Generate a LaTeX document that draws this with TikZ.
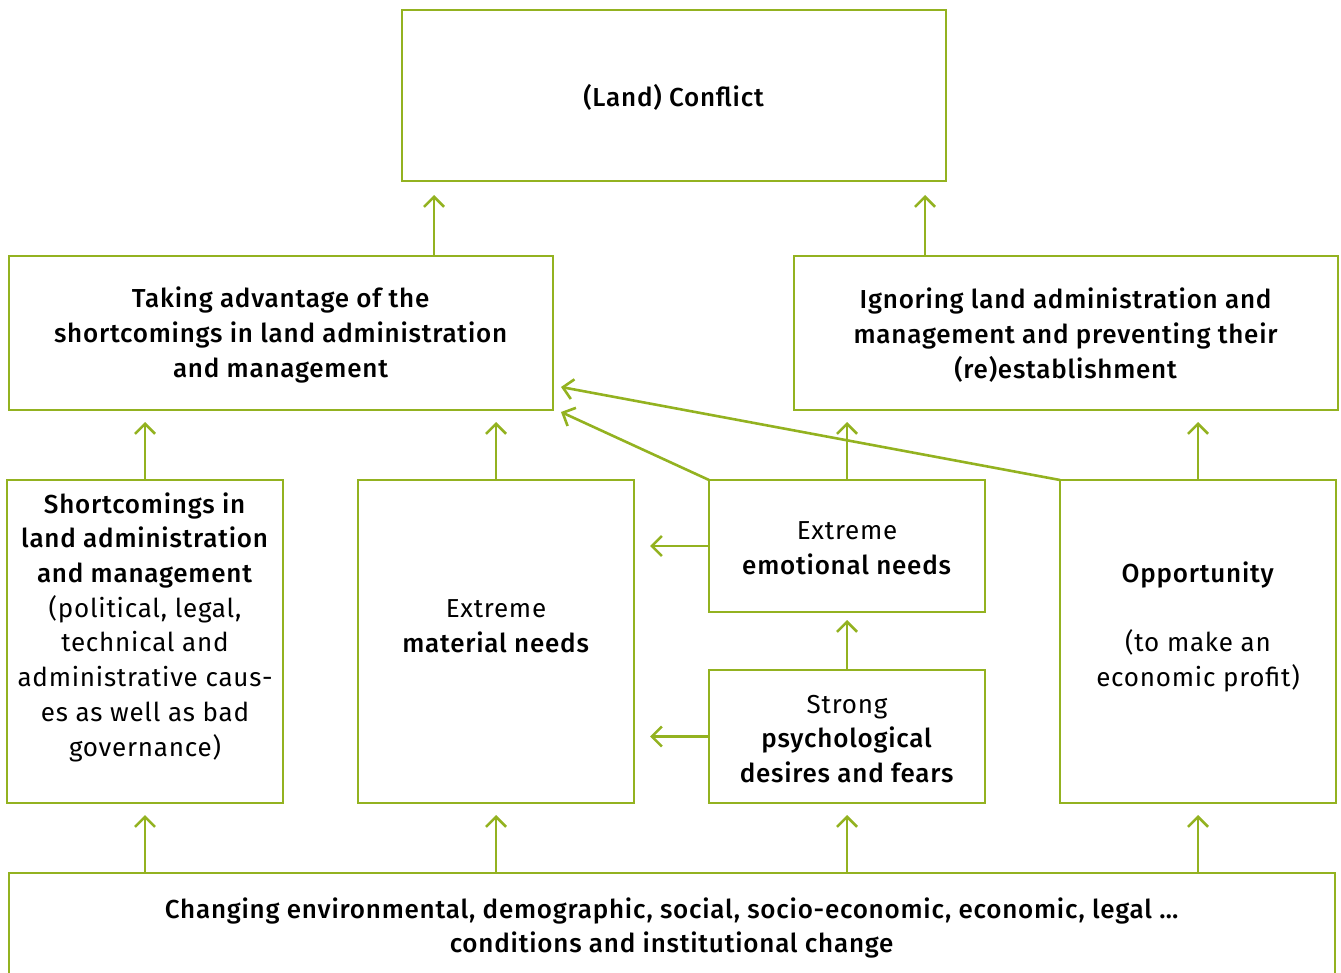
\documentclass[tikz,border=0pt]{standalone}
\usepackage{fontspec}
\setmainfont{Fira Sans}[BoldFont={Fira Sans Medium}, LetterSpace=3]
\usetikzlibrary{arrows.meta}
\definecolor{leaf}{RGB}{147,178,32}
\tikzset{
  box/.style={draw=leaf, line width=2.8pt, rectangle, inner sep=0pt, outer sep=0pt},
  txt/.style={align=center, inner sep=0pt, font=\fontsize{26}{34.7}\selectfont},
  arr/.style={draw=leaf, line width=2.6pt, -{Straight Barb[length=10pt,width=20pt]}},
}
\begin{document}
\begin{tikzpicture}[x=1pt,y=-1pt]
\useasboundingbox (0,0) rectangle (1341,973);

% boxes
\node[box, minimum width=544pt, minimum height=171pt] (conflict) at (674,95.5) {};
\node[box, minimum width=544pt, minimum height=154pt] (taking) at (281,333) {};
\node[box, minimum width=544pt, minimum height=154pt] (ignoring) at (1066,333) {};
\node[box, minimum width=276pt, minimum height=323pt] (short) at (145,641.5) {};
\node[box, minimum width=276pt, minimum height=323pt] (material) at (496,641.5) {};
\node[box, minimum width=276pt, minimum height=132pt] (emotional) at (847,546) {};
\node[box, minimum width=276pt, minimum height=133pt] (psych) at (847,736.5) {};
\node[box, minimum width=276pt, minimum height=323pt] (opp) at (1198,641.5) {};
\node[box, minimum width=1326pt, minimum height=140pt] (base) at (672,943) {};

% texts
\node[txt] (tconflict) at (674,97) {\textbf{(Land) Conflict}};
\node[txt] (ttaking) at (281,335) {\textbf{Taking advantage of the}\\\textbf{shortcomings in land administration}\\\textbf{and management}};
\node[txt] (tignoring) at (1066,335) {\textbf{Ignoring land administration and}\\\textbf{management and preventing their}\\\textbf{(re)establishment}};
\node[txt] (tshort) at (145,627) {\textbf{Shortcomings in}\\\textbf{land administration}\\\textbf{and management}\\(political, legal,\\technical and\\administrative caus-\\es as well as bad\\governance)};
\node[txt] (tmaterial) at (496,626) {Extreme\\\textbf{material needs}};
\node[txt] (temotional) at (847,548) {Extreme\\\textbf{emotional needs}};
\node[txt] (tpsych) at (847,739) {Strong\\\textbf{psychological}\\\textbf{desires and fears}};
\node[txt] (topp) at (1198,627) {\textbf{Opportunity}\\[34.7pt](to make an\\economic profit)};
\node[txt] (tbase) at (672,928) {\textbf{Changing environmental, demographic, social, socio-economic, economic, legal \dots}\\\textbf{conditions and institutional change}};

% connectors
\coordinate (cL) at ([xshift=32pt]conflict.south west);
\coordinate (cR) at ([xshift=-21pt]conflict.south east);
\coordinate (tA) at ([shift={(8pt,-2pt)}]taking.south east);
\coordinate (tB) at ([shift={(8pt,23pt)}]taking.south east);

\draw[arr, shorten >=14pt] (cL |- taking.north) -- (cL);
\draw[arr, shorten >=14pt] (cR |- ignoring.north) -- (cR);

\draw[arr, shorten >=12pt] (short.north) -- (short.north |- taking.south);
\draw[arr, shorten >=12pt] (material.north) -- (material.north |- taking.south);
\draw[arr, shorten >=12pt] (emotional.north) -- (emotional.north |- ignoring.south);
\draw[arr, shorten >=12pt] (opp.north) -- (opp.north |- ignoring.south);

\draw[arr] (emotional.north west) -- (tA);
\draw[arr] (opp.north west) -- (tB);

\draw[arr, shorten >=16pt] (emotional.west) -- (emotional.west -| material.east);
\draw[arr, shorten >=16pt] (psych.west) -- (psych.west -| material.east);
\draw[arr, shorten >=8pt] (psych.north) -- (emotional.south);

\draw[arr, shorten >=12pt] (base.north -| short.south) -- (short.south);
\draw[arr, shorten >=12pt] (base.north -| material.south) -- (material.south);
\draw[arr, shorten >=12pt] (base.north -| psych.south) -- (psych.south);
\draw[arr, shorten >=12pt] (base.north -| opp.south) -- (opp.south);
\end{tikzpicture}
\end{document}
